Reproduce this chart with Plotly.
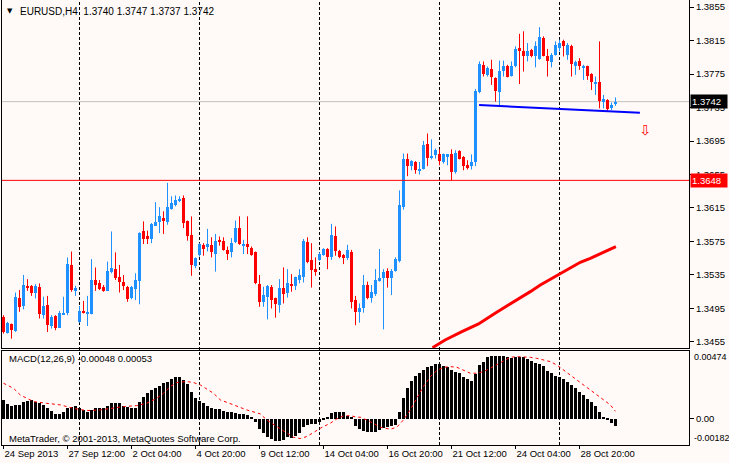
import plotly.graph_objects as go

# EURUSD H4 candles, bar 0 = 24 Sep 2013 20:00
opens = [
    1.3485, 1.3466, 1.3476, 1.3468, 1.3508, 1.3498, 1.3522, 1.3522, 1.3513, 1.3521,
    1.3487, 1.3499, 1.3474, 1.3486, 1.3472, 1.3488, 1.3490, 1.3547, 1.3516, 1.3479,
    1.3492, 1.3489, 1.3488, 1.3529, 1.3526, 1.3521, 1.3516, 1.3538, 1.3542, 1.3532,
    1.3527, 1.3521, 1.3507, 1.3518, 1.3528, 1.3587, 1.3581, 1.3578, 1.3594, 1.3598,
    1.3603, 1.3598, 1.3614, 1.3619, 1.3623, 1.3627, 1.3599, 1.3583, 1.3546, 1.3559,
    1.3571, 1.3568, 1.3571, 1.3560, 1.3577, 1.3576, 1.3565, 1.3562, 1.3574, 1.3591,
    1.3570, 1.3572, 1.3567, 1.3562, 1.3524, 1.3503, 1.3509, 1.3521, 1.3507, 1.3499,
    1.3520, 1.3514, 1.3524, 1.3522, 1.3529, 1.3533, 1.3574, 1.3553, 1.3542, 1.3553,
    1.3559, 1.3566, 1.3556, 1.3582, 1.3564, 1.3559, 1.3555, 1.3563, 1.3505, 1.3491,
    1.3495, 1.3523, 1.3507, 1.3512, 1.3528, 1.3531, 1.3540, 1.3531, 1.3540, 1.3552,
    1.3616, 1.3673, 1.3665, 1.3670, 1.3659, 1.3662, 1.3691, 1.3675, 1.3678, 1.3680,
    1.3670, 1.3677, 1.3680, 1.3658, 1.3683, 1.3676, 1.3666, 1.3665, 1.3670, 1.3753,
    1.3786, 1.3774, 1.3781, 1.3770, 1.3754, 1.3779, 1.3785, 1.3773, 1.3784, 1.3806,
    1.3802, 1.3797, 1.3804, 1.3797, 1.3793, 1.3818, 1.3797, 1.3789, 1.3798, 1.3806,
    1.3814, 1.3798, 1.3809, 1.3785, 1.3791, 1.3783, 1.3784, 1.3775, 1.3764, 1.3765,
    1.3742, 1.3744, 1.3734, 1.3740,
]
highs = [
    1.3487, 1.3479, 1.3477, 1.3514, 1.3517, 1.3535, 1.3530, 1.3523, 1.3524, 1.3525,
    1.3509, 1.3510, 1.3487, 1.3487, 1.3492, 1.3509, 1.3556, 1.3563, 1.3522, 1.3498,
    1.3504, 1.3510, 1.3554, 1.3544, 1.3529, 1.3523, 1.3551, 1.3587, 1.3562, 1.3547,
    1.3535, 1.3522, 1.3522, 1.3537, 1.3586, 1.3599, 1.3588, 1.3597, 1.3622, 1.3616,
    1.3611, 1.3645, 1.3629, 1.3630, 1.3629, 1.3630, 1.3600, 1.3605, 1.3556, 1.3573,
    1.3573, 1.3590, 1.3580, 1.3584, 1.3581, 1.3580, 1.3569, 1.3579, 1.3600, 1.3605,
    1.3577, 1.3605, 1.3569, 1.3563, 1.3535, 1.3521, 1.3523, 1.3523, 1.3508, 1.3530,
    1.3544, 1.3542, 1.3536, 1.3533, 1.3542, 1.3578, 1.3580, 1.3573, 1.3556, 1.3562,
    1.3567, 1.3567, 1.3596, 1.3593, 1.3565, 1.3560, 1.3571, 1.3565, 1.3510, 1.3501,
    1.3535, 1.3527, 1.3523, 1.3542, 1.3566, 1.3542, 1.3543, 1.3542, 1.3556, 1.3636,
    1.3680, 1.3680, 1.3672, 1.3671, 1.3670, 1.3695, 1.3704, 1.3697, 1.3686, 1.3685,
    1.3680, 1.3679, 1.3685, 1.3684, 1.3684, 1.3677, 1.3672, 1.3679, 1.3757, 1.3790,
    1.3790, 1.3784, 1.3792, 1.3771, 1.3791, 1.3791, 1.3786, 1.3790, 1.3808, 1.3823,
    1.3826, 1.3812, 1.3805, 1.3814, 1.3831, 1.3820, 1.3805, 1.3800, 1.3814, 1.3816,
    1.3816, 1.3812, 1.3810, 1.3791, 1.3794, 1.3786, 1.3785, 1.3776, 1.3772, 1.3814,
    1.3750, 1.3745, 1.3741, 1.3747,
]
lows = [
    1.3465, 1.3465, 1.3459, 1.3467, 1.3491, 1.3494, 1.3516, 1.3510, 1.3507, 1.3483,
    1.3483, 1.3467, 1.3471, 1.3469, 1.3472, 1.3488, 1.3487, 1.3515, 1.3510, 1.3478,
    1.3489, 1.3474, 1.3488, 1.3516, 1.3517, 1.3515, 1.3516, 1.3537, 1.3529, 1.3514,
    1.3517, 1.3503, 1.3506, 1.3505, 1.3500, 1.3572, 1.3572, 1.3573, 1.3594, 1.3585,
    1.3584, 1.3595, 1.3613, 1.3617, 1.3622, 1.3591, 1.3576, 1.3534, 1.3543, 1.3557,
    1.3558, 1.3563, 1.3556, 1.3539, 1.3570, 1.3564, 1.3553, 1.3556, 1.3573, 1.3571,
    1.3560, 1.3560, 1.3558, 1.3524, 1.3497, 1.3497, 1.3482, 1.3495, 1.3484, 1.3490,
    1.3501, 1.3508, 1.3515, 1.3517, 1.3525, 1.3526, 1.3549, 1.3520, 1.3534, 1.3552,
    1.3558, 1.3542, 1.3553, 1.3558, 1.3555, 1.3548, 1.3553, 1.3495, 1.3475, 1.3478,
    1.3490, 1.3506, 1.3502, 1.3510, 1.3527, 1.3470, 1.3520, 1.3511, 1.3539, 1.3550,
    1.3613, 1.3653, 1.3660, 1.3656, 1.3655, 1.3661, 1.3665, 1.3673, 1.3674, 1.3666,
    1.3668, 1.3666, 1.3648, 1.3656, 1.3673, 1.3660, 1.3661, 1.3661, 1.3665, 1.3752,
    1.3772, 1.3772, 1.3762, 1.3742, 1.3738, 1.3772, 1.3771, 1.3772, 1.3783, 1.3763,
    1.3778, 1.3790, 1.3795, 1.3783, 1.3792, 1.3796, 1.3772, 1.3783, 1.3797, 1.3802,
    1.3796, 1.3792, 1.3772, 1.3774, 1.3780, 1.3768, 1.3768, 1.3756, 1.3750, 1.3734,
    1.3734, 1.3730, 1.3732, 1.3737,
]
closes = [
    1.3467, 1.3478, 1.3469, 1.3509, 1.3497, 1.3523, 1.3519, 1.3514, 1.3522, 1.3488,
    1.3498, 1.3475, 1.3485, 1.3472, 1.3490, 1.3489, 1.3548, 1.3517, 1.3520, 1.3492,
    1.3490, 1.3491, 1.3529, 1.3523, 1.3518, 1.3516, 1.3540, 1.3543, 1.3531, 1.3527,
    1.3522, 1.3506, 1.3521, 1.3529, 1.3585, 1.3578, 1.3578, 1.3596, 1.3598, 1.3605,
    1.3600, 1.3616, 1.3621, 1.3625, 1.3626, 1.3597, 1.3581, 1.3547, 1.3555, 1.3572,
    1.3566, 1.3572, 1.3562, 1.3576, 1.3574, 1.3565, 1.3560, 1.3573, 1.3591, 1.3572,
    1.3571, 1.3568, 1.3559, 1.3525, 1.3503, 1.3511, 1.3522, 1.3505, 1.3500, 1.3520,
    1.3512, 1.3526, 1.3522, 1.3532, 1.3535, 1.3575, 1.3551, 1.3541, 1.3539, 1.3560,
    1.3566, 1.3556, 1.3583, 1.3564, 1.3557, 1.3555, 1.3565, 1.3503, 1.3491, 1.3496,
    1.3523, 1.3507, 1.3515, 1.3529, 1.3531, 1.3539, 1.3531, 1.3540, 1.3554, 1.3618,
    1.3674, 1.3665, 1.3671, 1.3660, 1.3662, 1.3690, 1.3675, 1.3677, 1.3684, 1.3671,
    1.3679, 1.3679, 1.3658, 1.3681, 1.3674, 1.3665, 1.3663, 1.3670, 1.3755, 1.3787,
    1.3775, 1.3782, 1.3771, 1.3755, 1.3779, 1.3785, 1.3772, 1.3785, 1.3805, 1.3802,
    1.3797, 1.3802, 1.3797, 1.3808, 1.3819, 1.3797, 1.3790, 1.3798, 1.3810, 1.3812,
    1.3808, 1.3810, 1.3787, 1.3789, 1.3784, 1.3785, 1.3773, 1.3765, 1.3766, 1.3743,
    1.3745, 1.3733, 1.3738, 1.3742,
]

# MACD(12,26,9) main line, one value per bar
macd = [
    0.00133, 0.00105, 0.00093, 0.00098, 0.00098, 0.00121, 0.00126, 0.00133, 0.00121, 0.00109,
    0.00098, 0.00074, 0.00058, 0.00035, 0.00035, 0.00051, 0.00074, 0.00086, 0.00091, 0.00074,
    0.00063, 0.00051, 0.00063, 0.00074, 0.00074, 0.00074, 0.00091, 0.00109, 0.00109, 0.00109,
    0.00093, 0.00086, 0.00074, 0.00074, 0.00121, 0.00151, 0.00179, 0.00202, 0.00214, 0.00233,
    0.00249, 0.00261, 0.00277, 0.00291, 0.00291, 0.00272, 0.00244, 0.00191, 0.00144, 0.00128,
    0.00109, 0.00091, 0.00074, 0.00067, 0.00067, 0.00056, 0.00047, 0.00047, 0.00040, 0.00035,
    0.00035, 0.00028, 0.00016, -0.00019, -0.00072, -0.00100, -0.00123, -0.00142, -0.00151, -0.00151,
    -0.00147, -0.00128, -0.00135, -0.00119, -0.00100, -0.00058, -0.00042, -0.00037, -0.00037, -0.00023,
    -0.00007, 0.00012, 0.00044, 0.00051, 0.00051, 0.00051, 0.00021, 0.00012, -0.00049, -0.00072,
    -0.00081, -0.00088, -0.00093, -0.00088, -0.00077, -0.00065, -0.00058, -0.00049, -0.00042, 0.00051,
    0.00144, 0.00214, 0.00265, 0.00300, 0.00319, 0.00342, 0.00365, 0.00372, 0.00381, 0.00384,
    0.00370, 0.00361, 0.00342, 0.00330, 0.00319, 0.00295, 0.00277, 0.00267, 0.00312, 0.00377,
    0.00400, 0.00435, 0.00440, 0.00440, 0.00440, 0.00440, 0.00430, 0.00423, 0.00430, 0.00430,
    0.00430, 0.00416, 0.00407, 0.00393, 0.00384, 0.00370, 0.00337, 0.00319, 0.00300, 0.00295,
    0.00277, 0.00261, 0.00237, 0.00214, 0.00191, 0.00167, 0.00137, 0.00121, 0.00091, 0.00051,
    0.00016, -0.00007, -0.00026, -0.00048,
]

# signal line read at these bar positions
signal_bar = [
    0, 2.5, 4.2, 7.5, 10.8, 14.2, 17.5, 20.8, 24.2, 26.7,
    30, 33.3, 35.8, 38.3, 40, 41.7, 43.3, 45.8, 47.5, 49.2,
    52.5, 54.2, 57.5, 60.8, 64.2, 65.8, 68.3, 70.8, 72.5, 74.2,
    75.8, 77.5, 79.2, 81.7, 83.3, 85, 86.7, 88.3, 89.2, 91.7,
    94.2, 96.7, 98.3, 100, 101.7, 103.3, 105, 106.7, 108.3, 110,
    111.7, 113.3, 115, 116.7, 118.3, 120, 121.7, 123.3, 125, 126.7,
    128.3, 130, 131.7, 133.3, 135, 136.7, 138.3, 140, 141.7, 143.3,
    145, 146.7, 148.3, 150, 151.7, 153,
]
signal = [
    0.00249, 0.00214, 0.00167, 0.00121, 0.00109, 0.00098, 0.00074, 0.00058, 0.00063, 0.00074,
    0.00086, 0.00093, 0.00109, 0.00144, 0.00179, 0.00226, 0.00254, 0.00261, 0.00254, 0.00237,
    0.00179, 0.00133, 0.00098, 0.00063, 0.00035, -0.00007, -0.00053, -0.00100, -0.00128, -0.00137,
    -0.00123, -0.00095, -0.00065, -0.00030, 0.0, 0.00021, 0.00023, 0.00012, 0.00012, -0.00019,
    -0.00058, -0.00072, -0.00058, -0.00007, 0.00063, 0.00144, 0.00226, 0.00295, 0.00337, 0.00361,
    0.00365, 0.00361, 0.00342, 0.00319, 0.00319, 0.00330, 0.00354, 0.00377, 0.00407, 0.00430,
    0.00435, 0.00435, 0.00430, 0.00423, 0.00412, 0.00400, 0.00377, 0.00342, 0.00307, 0.00272,
    0.00237, 0.00202, 0.00167, 0.00133, 0.00098, 0.00053,
]

# red moving average (visible part only)
ma_bar = [107.25, 110.4, 114.6, 118.75, 122.9, 126.7, 129.2, 131.7, 134.2, 136.7,
          139.2, 141.7, 144.2, 146.7, 149.2, 151.7, 153.1]
ma_price = [1.34482, 1.34574, 1.34673, 1.34765, 1.34893, 1.35004, 1.35072, 1.35151, 1.35231, 1.35299,
            1.35370, 1.35430, 1.35502, 1.35549, 1.35601, 1.35657, 1.35688]

# blue trendline and sell arrow
trend_bar = [118.9, 159.1]
trend_price = [1.37380, 1.37288]
arrow_bar = [160.4]
arrow_price = [1.37069]

bid_price = 1.3742
level_price = 1.3648
last_ohlc = [1.3740, 1.3747, 1.3737, 1.3742]

week_bars = [19, 49, 79, 109, 139]   # Monday 00:00 separators
tick_bars = [0, 16, 32, 48, 64, 80, 96, 112, 128, 144]
tick_labels = ["24 Sep 2013", "27 Sep 12:00", "2 Oct 04:00", "4 Oct 20:00", "9 Oct 12:00",
               "14 Oct 04:00", "16 Oct 20:00", "21 Oct 12:00", "24 Oct 04:00", "28 Oct 20:00"]
price_ticks = [1.3455, 1.3495, 1.3535, 1.3575, 1.3615, 1.3655, 1.3695, 1.3735, 1.3775, 1.3815, 1.3855]

BULL = "#1E90FF"
BEAR = "#FF0000"
BG = "#FFFAF8"
FONT = "Liberation Sans, Arial, sans-serif"

bars = list(range(len(opens)))

fig = go.Figure()

# wicks
for up, color in ((True, BULL), (False, BEAR)):
    wx, wy = [], []
    for i in bars:
        if (closes[i] >= opens[i]) == up:
            wx += [i, i, None]
            wy += [lows[i], highs[i], None]
    fig.add_trace(go.Scatter(x=wx, y=wy, mode="lines", line=dict(color=color, width=1),
                             hoverinfo="skip", showlegend=False, xaxis="x", yaxis="y"))

# bodies
for up, color in ((True, BULL), (False, BEAR)):
    idx = [i for i in bars if (closes[i] >= opens[i]) == up]
    fig.add_trace(go.Bar(
        x=idx,
        base=[min(opens[i], closes[i]) for i in idx],
        y=[max(abs(closes[i] - opens[i]), 0.00005) for i in idx],
        width=0.75, marker=dict(color=color, line=dict(width=0)),
        showlegend=False, xaxis="x", yaxis="y",
    ))

fig.add_trace(go.Scatter(x=ma_bar, y=ma_price, mode="lines", line=dict(color="#FF0000", width=3),
                         showlegend=False, xaxis="x", yaxis="y"))
fig.add_trace(go.Scatter(x=trend_bar, y=trend_price, mode="lines", line=dict(color="#0000FF", width=2),
                         showlegend=False, xaxis="x", yaxis="y"))
fig.add_trace(go.Scatter(x=arrow_bar, y=arrow_price, mode="text", text=["⇩"],
                         textfont=dict(family="DejaVu Sans", size=14, color="#FF0000"),
                         showlegend=False, xaxis="x", yaxis="y"))

# MACD panel
fig.add_trace(go.Bar(x=bars, y=macd, width=0.7, marker=dict(color="black", line=dict(width=0)),
                     showlegend=False, xaxis="x2", yaxis="y2"))
fig.add_trace(go.Scatter(x=signal_bar, y=signal, mode="lines",
                         line=dict(color="#FF0000", width=1, dash="dot"),
                         showlegend=False, xaxis="x2", yaxis="y2"))

shapes = []
for b in week_bars:
    shapes.append(dict(type="line", xref="x", yref="paper", x0=b, x1=b, y0=0, y1=1,
                       line=dict(color="black", width=1, dash="3px,2px"), layer="below"))
shapes.append(dict(type="line", xref="paper", yref="y", x0=0, x1=1, y0=bid_price, y1=bid_price,
                   line=dict(color="#C0C0C0", width=1), layer="below"))
shapes.append(dict(type="line", xref="paper", yref="y", x0=0, x1=1, y0=level_price, y1=level_price,
                   line=dict(color="#FF0000", width=1)))

small = dict(family=FONT, size=9.5, color="black")
axis_note = dict(family=FONT, size=9, color="black")
nb = "\u00a0"
header = "EURUSD,H4" + nb * 2 + " ".join("%.4f" % v for v in last_ohlc)
annotations = [
    dict(xref="paper", yref="paper", x=0.011, y=0.975, text="▼", showarrow=False,
         xanchor="center", yanchor="middle", font=dict(family="DejaVu Sans", size=7, color="black")),
    dict(xref="paper", yref="paper", x=0.0235, y=0.975, showarrow=False,
         text=header, xanchor="left", yanchor="middle", font=dict(family=FONT, size=10, color="black")),
    dict(xref="paper", yref="paper", x=0.0075, y=0.1933, showarrow=False,
         text="MACD(12,26,9) -0.00048 0.00053", xanchor="left", yanchor="middle", font=small),
    dict(xref="paper", yref="paper", x=0.0075, y=0.0157, showarrow=False,
         text="MetaTrader, © 2001-2013, MetaQuotes Software Corp.", xanchor="left", yanchor="middle", font=small),
    dict(xref="paper", yref="paper", x=1, xshift=3, y=0.1978, showarrow=False,
         text="0.00474", xanchor="left", yanchor="middle", font=axis_note),
    dict(xref="paper", yref="paper", x=1, xshift=3, y=0.0157, showarrow=False,
         text="-0.00182", xanchor="left", yanchor="middle", font=axis_note),
    dict(xref="paper", yref="y", x=1, xshift=1, y=bid_price, showarrow=False,
         text="%.4f" % bid_price, xanchor="left", yanchor="middle", bgcolor="black",
         width=34, height=11, align="left", borderpad=1,
         font=dict(family=FONT, size=9.5, color="white")),
    dict(xref="paper", yref="y", x=1, xshift=1, y=level_price, showarrow=False,
         text="%.4f" % level_price, xanchor="left", yanchor="middle", bgcolor="#FF0000",
         width=34, height=11, align="left", borderpad=1,
         font=dict(family=FONT, size=9.5, color="white")),
]

xr = [-0.375, 171.375]
fig.update_layout(
    width=729, height=463,
    margin=dict(l=2, r=40, t=0, b=18),
    paper_bgcolor=BG, plot_bgcolor=BG,
    barmode="overlay", bargap=0,
    showlegend=False,
    shapes=shapes, annotations=annotations,
    font=small,
    xaxis=dict(domain=[0, 1], range=xr, anchor="y", showgrid=False, zeroline=False,
               showticklabels=False, ticks="", showline=True, linecolor="black", linewidth=1, mirror=True),
    yaxis=dict(domain=[0.218, 1], range=[1.34478, 1.38634], side="right", showgrid=False, zeroline=False,
               tickvals=price_ticks, ticktext=["%.4f" % p for p in price_ticks],
               ticks="outside", ticklen=4, tickcolor="black", tickfont=small,
               showline=True, linecolor="black", linewidth=1, mirror=True),
    xaxis2=dict(domain=[0, 1], range=xr, anchor="y2", matches="x", showgrid=False, zeroline=False,
                tickvals=tick_bars, ticktext=tick_labels, ticklabelposition="outside right",
                tickangle=0, ticks="outside", ticklen=3, tickcolor="black", tickfont=small,
                showline=True, linecolor="black", linewidth=1, mirror=True),
    yaxis2=dict(domain=[0, 0.2112], range=[-0.00182, 0.00474], side="right", showgrid=False, zeroline=False,
                tickvals=[0], ticktext=["0.00"], ticks="outside", ticklen=4, tickcolor="black",
                tickfont=small, showline=True, linecolor="black", linewidth=1, mirror=True),
)

# page body has a default margin; drop it so the figure sits at the window's top-left
fig.write_html("out.html", config={"displayModeBar": False},
               post_script="document.body.style.margin='0';")
